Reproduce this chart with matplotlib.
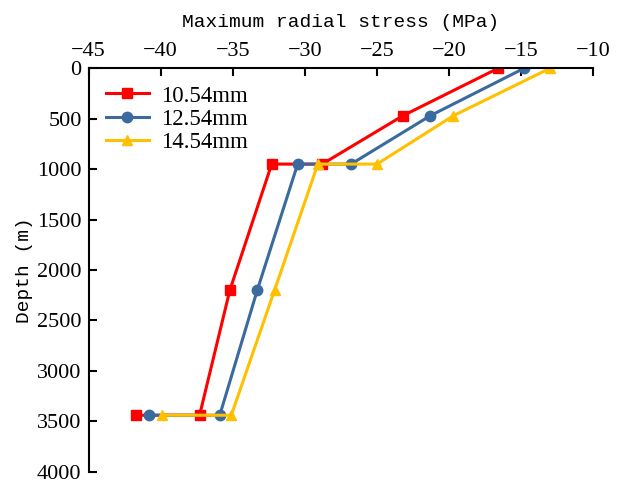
import matplotlib
matplotlib.use('Agg')
import matplotlib.pyplot as plt

# Data
labels = ['10.54mm', '12.54mm', '14.54mm']
depth = [0, 470, 950, 950, 2200, 3440, 3440]
stress_1054 = [-16.6, -23.2, -28.8, -32.3, -35.2, -37.3, -41.7]
stress_1254 = [-14.8, -21.3, -26.8, -30.5, -33.3, -35.9, -40.8]
stress_1454 = [-13.0, -19.7, -25.0, -29.1, -32.1, -35.1, -39.9]

colors = ['#FF0000', '#3A6A9E', '#FFC000']
markers = ['s', 'o', '^']

plt.rcParams['font.family'] = ['Liberation Serif', 'DejaVu Serif']

fig = plt.figure(figsize=(6.19, 4.86), dpi=100)
ax = fig.add_axes([0.143, 0.0294, 0.8155, 0.8301])

for vals, lab, c, m in zip([stress_1054, stress_1254, stress_1454], labels, colors, markers):
    ax.plot(vals, depth, color=c, marker=m, markersize=7.5, linewidth=2.2, label=lab)

ax.set_xlim(-45, -10)
ax.set_ylim(4000, 0)
ax.set_xticks(range(-45, -9, 5))
ax.set_yticks(range(0, 4001, 500))

ax.xaxis.tick_top()
ax.xaxis.set_label_position('top')
ax.set_xlabel('Maximum radial stress (MPa)', family='Liberation Mono', fontsize=14, labelpad=11)
ax.set_ylabel('Depth (m)', family='Liberation Mono', fontsize=14, labelpad=3)

for s in ['right', 'bottom']:
    ax.spines[s].set_visible(False)
for s in ['top', 'left']:
    ax.spines[s].set_linewidth(1.5)
ax.tick_params(direction='in', length=6, width=1.5, labelsize=16, pad=5)

ax.legend(loc='upper left', frameon=False, fontsize=16.5, handlelength=1.9,
          borderaxespad=0.35, labelspacing=0.1, handletextpad=0.5)

fig.savefig('out.png', dpi=100)
